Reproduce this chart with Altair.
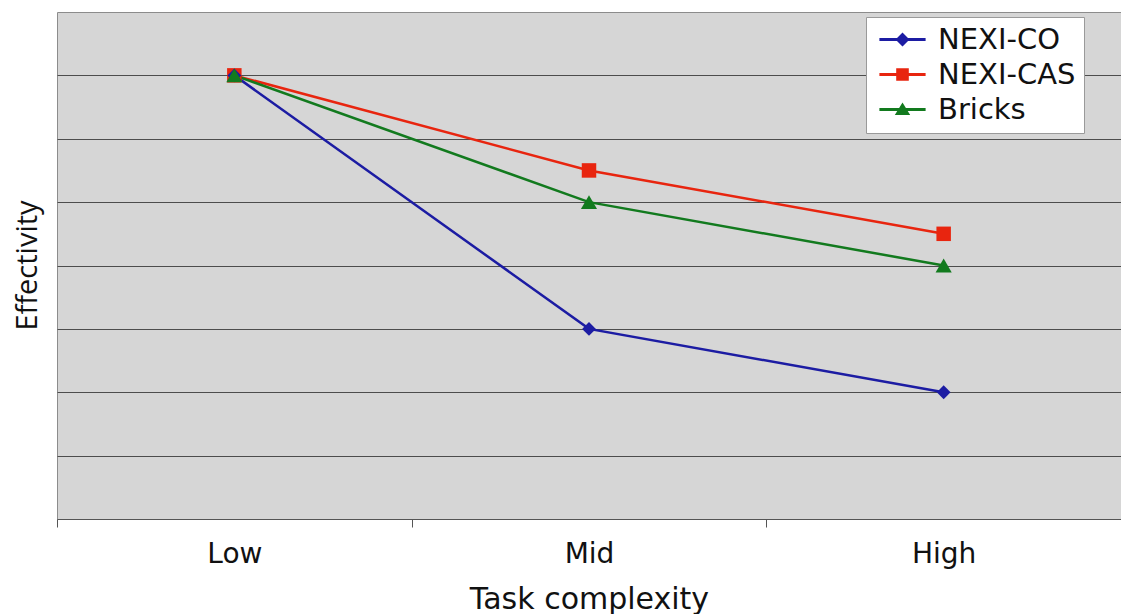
import altair as alt
import pandas as pd

levels = ["Low", "Mid", "High"]
series_names = ["NEXI-CO", "NEXI-CAS", "Bricks"]
nexi_co = [7, 3, 2]
nexi_cas = [7, 5.5, 4.5]
bricks = [7, 5, 4]
colors = ["#1c1ca3", "#e8250f", "#127a1e"]

rows = []
for name, vals in zip(series_names, [nexi_co, nexi_cas, bricks]):
    for lv, v in zip(levels, vals):
        rows.append({"level": lv, "series": name, "value": v})
df = pd.DataFrame(rows)

legend_paths = [
    "M-3.3,-0.2H3.3V0.2H-3.3Z M0,-1L1,0L0,1L-1,0Z",
    "M-3.3,-0.2H3.3V0.2H-3.3Z M-0.9,-0.9H0.9V0.9H-0.9Z",
    "M-3.3,-0.2H3.3V0.2H-3.3Z M0,-1L1.1,0.8H-1.1Z",
]

x_enc = alt.X(
    "level:N",
    sort=levels,
    scale=alt.Scale(type="band", paddingInner=0, paddingOuter=0),
    axis=alt.Axis(
        title="Task complexity",
        labelAngle=0,
        labelFontSize=28,
        labelFont="DejaVu Sans",
        labelColor="#111111",
        labelPadding=13,
        tickBand="extent",
        tickSize=8,
        tickColor="#555555",
        domainColor="#555555",
        titleFontSize=30,
        titleFont="DejaVu Sans",
        titleFontWeight="normal",
        titleColor="#111111",
        titleBaseline="alphabetic",
        titleY=89,
        grid=False,
    ),
)
y_enc = alt.Y(
    "value:Q",
    scale=alt.Scale(domain=[0, 8], nice=False),
    axis=alt.Axis(
        title="Effectivity",
        values=[1, 2, 3, 4, 5, 6, 7],
        labels=False,
        ticks=False,
        domain=False,
        grid=True,
        gridColor="#4d4d4d",
        gridWidth=1,
        titleFontSize=29,
        titleFont="Open Sans",
        titleFontWeight="normal",
        titleColor="#111111",
        titleAngle=-90,
        titleBaseline="alphabetic",
        titleX=-21,
        titleY=253,
    ),
)

def cscale():
    return alt.Scale(domain=series_names, range=colors)

base = alt.Chart(df)

lines = base.mark_line(strokeWidth=2.5).encode(
    x=x_enc, y=y_enc,
    color=alt.Color("series:N", scale=cscale(), legend=None),
    detail="series:N",
)

def markers(name, shape, size):
    return base.transform_filter(alt.datum.series == name).mark_point(
        shape=shape, filled=True, size=size, opacity=1
    ).encode(
        x=x_enc, y=y_enc,
        color=alt.Color("series:N", scale=cscale(), legend=None),
    )

m_cas = markers("NEXI-CAS", "square", 210)
m_co = markers("NEXI-CO", "diamond", 190)
m_br = markers("Bricks", "triangle-up", 260)

legend = alt.Legend(
    title=None,
    orient="none",
    legendX=809,
    legendY=5,
    fillColor="white",
    strokeColor="#9a9a9a",
    padding=8,
    labelFontSize=29,
    labelFont="DejaVu Sans",
    labelColor="#111111",
    symbolSize=196,
    symbolOpacity=1,
    symbolStrokeWidth=0,
    symbolOffset=14,
    labelOffset=21,
    rowPadding=5,
)

legend_layer = base.mark_point(filled=True, opacity=0, size=196).encode(
    x=x_enc, y=y_enc,
    color=alt.Color("series:N", scale=cscale(), sort=series_names, legend=legend),
    shape=alt.Shape("series:N", scale=alt.Scale(domain=series_names, range=legend_paths),
                    sort=series_names, legend=legend),
)

chart = alt.layer(lines, m_cas, m_co, m_br, legend_layer).resolve_scale(
    color="independent", shape="independent"
).properties(
    width=1064,
    height=507,
    autosize=alt.AutoSizeParams(type="none"),
    padding={"left": 57, "top": 12, "right": 0, "bottom": 95},
).configure(
    background="white",
).configure_view(
    fill="#d6d6d6",
    stroke="#8c8c8c",
    strokeWidth=1,
)

chart.save("out.html", embed_options={"renderer": "svg", "actions": False})
